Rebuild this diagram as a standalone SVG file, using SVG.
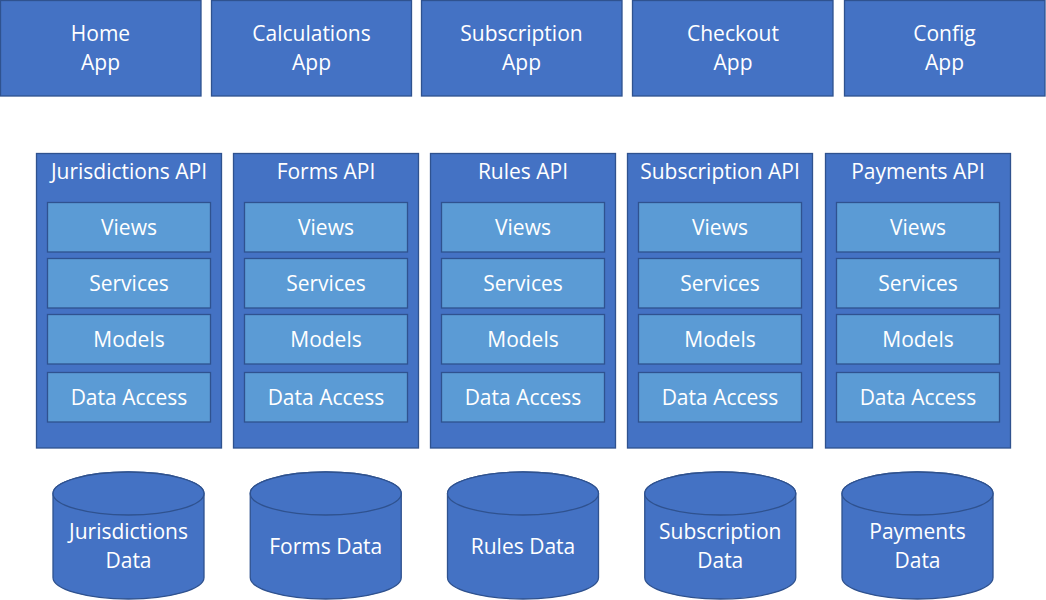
<svg xmlns="http://www.w3.org/2000/svg" xmlns:xlink="http://www.w3.org/1999/xlink" width="1046" height="600" viewBox="0 0 1046 600">
<defs>
<style>
.app{fill:#4472C4;stroke:#2F528F;stroke-width:1.3}
.api{fill:#4472C4;stroke:#2F528F;stroke-width:1.3}
.layer{fill:#5B9BD5;stroke:#2F528F;stroke-width:1.3}
.db{fill:#4472C4;stroke:#2F528F;stroke-width:1.3}
text{font-family:"Open Sans","Noto Sans","Liberation Sans",sans-serif;font-size:21px;fill:#FFFFFF;text-anchor:middle}
</style>
<g id="cyl">
<path class="db" d="M-75.5,493.5 V577.5 A75.5,21.5 0 0 0 75.5,577.5 V493.5 A75.5,21.5 0 0 0 -75.5,493.5 Z"/>
<ellipse class="db" cx="0" cy="493.5" rx="75.5" ry="21.5"/>
</g>
<g id="stack">
<rect class="api" x="0" y="153.5" width="185" height="294.5"/>
<rect class="layer" x="11" y="202.5" width="163" height="49.5"/>
<rect class="layer" x="11" y="258.5" width="163" height="49.5"/>
<rect class="layer" x="11" y="314.5" width="163" height="49.5"/>
<rect class="layer" x="11" y="372.5" width="163" height="49.5"/>
<text x="92.5" y="235">Views</text>
<text x="92.5" y="291">Services</text>
<text x="92.5" y="347">Models</text>
<text x="92.5" y="405">Data Access</text>
</g>
</defs>

<g id="apps">
<g id="home-app"><rect class="app" x="0.5" y="0.5" width="200.5" height="95.5"/><text x="100.5" y="41">Home</text><text x="100.5" y="70">App</text></g>
<g id="calculations-app"><rect class="app" x="211.5" y="0.5" width="200" height="95.5"/><text x="311.5" y="41">Calculations</text><text x="311.5" y="70">App</text></g>
<g id="subscription-app"><rect class="app" x="421.5" y="0.5" width="200.5" height="95.5"/><text x="521.5" y="41">Subscription</text><text x="521.5" y="70">App</text></g>
<g id="checkout-app"><rect class="app" x="632.5" y="0.5" width="200.5" height="95.5"/><text x="733" y="41">Checkout</text><text x="733" y="70">App</text></g>
<g id="config-app"><rect class="app" x="844.5" y="0.5" width="200.5" height="95.5"/><text x="944.5" y="41">Config</text><text x="944.5" y="70">App</text></g>
</g>

<g id="apis">
<g id="jurisdictions-api" transform="translate(36.5,0)"><use xlink:href="#stack"/><text x="92.5" y="179">Jurisdictions API</text></g>
<g id="forms-api" transform="translate(233.5,0)"><use xlink:href="#stack"/><text x="92.5" y="179">Forms API</text></g>
<g id="rules-api" transform="translate(430.5,0)"><use xlink:href="#stack"/><text x="92.5" y="179">Rules API</text></g>
<g id="subscription-api" transform="translate(627.5,0)"><use xlink:href="#stack"/><text x="92.5" y="179">Subscription API</text></g>
<g id="payments-api" transform="translate(825.5,0)"><use xlink:href="#stack"/><text x="92.5" y="179">Payments API</text></g>
</g>

<g id="databases">
<g id="jurisdictions-data" transform="translate(128.5,0)"><use xlink:href="#cyl"/><text x="0" y="539">Jurisdictions</text><text x="0" y="568">Data</text></g>
<g id="forms-data" transform="translate(325.75,0)"><use xlink:href="#cyl"/><text x="0" y="554">Forms Data</text></g>
<g id="rules-data" transform="translate(523,0)"><use xlink:href="#cyl"/><text x="0" y="554">Rules Data</text></g>
<g id="subscription-data" transform="translate(720.25,0)"><use xlink:href="#cyl"/><text x="0" y="539">Subscription</text><text x="0" y="568">Data</text></g>
<g id="payments-data" transform="translate(917.5,0)"><use xlink:href="#cyl"/><text x="0" y="539">Payments</text><text x="0" y="568">Data</text></g>
</g>

<g id="connectors"></g>
</svg>
